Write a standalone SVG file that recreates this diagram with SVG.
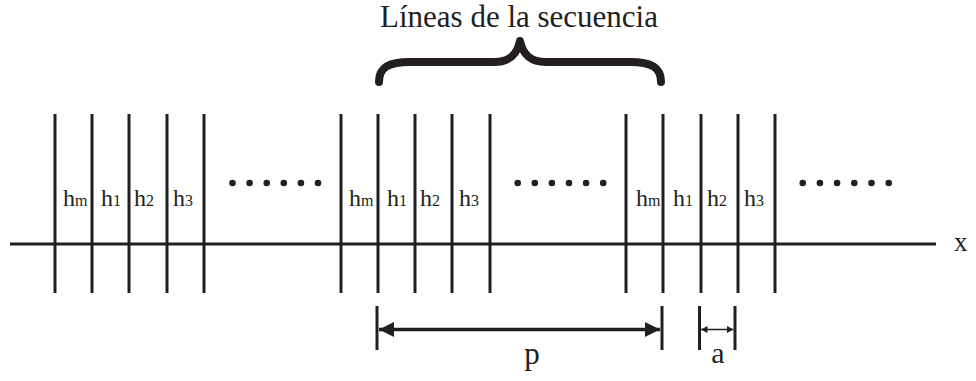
<svg xmlns="http://www.w3.org/2000/svg" width="976" height="381" viewBox="0 0 976 381">
<defs>
<style>
.ln{stroke:#231f20;stroke-width:3;fill:none}
.t{fill:#231f20;font-family:"Liberation Serif","Times New Roman",serif}
.h{font-size:24px}
.s{font-size:16px}
.d{fill:#231f20}
</style>
<marker id="big" markerUnits="userSpaceOnUse" markerWidth="16" markerHeight="16" refX="15" refY="7.5" orient="auto-start-reverse"><path d="M0,0 L15,7.5 L0,15 z" fill="#231f20"/></marker>
<marker id="small" markerUnits="userSpaceOnUse" markerWidth="8" markerHeight="8" refX="6.5" refY="3.5" orient="auto-start-reverse"><path d="M0,0 L6.5,3.5 L0,7 z" fill="#231f20"/></marker>
</defs>
<rect width="976" height="381" fill="#fff"/>
<g id="title"><text class="t" x="519" y="27" font-size="31" text-anchor="middle">Líneas de la secuencia</text></g>
<g id="brace"><path d="M379,82 C379,67 389,62 410,62 L494,62 C509,62 517,55 520,41 C523,55 531,62 546,62 L630,62 C651,62 661,67 661,82" stroke="#231f20" stroke-width="8" fill="none" stroke-linecap="round" stroke-linejoin="round"/></g>
<g id="axis"><line class="ln" x1="10" y1="244" x2="936" y2="244"/><text class="t" x="954" y="251" font-size="27">x</text></g>
<g id="group1">
<line class="ln" x1="55" y1="114" x2="55" y2="293"/><line class="ln" x1="92" y1="114" x2="92" y2="293"/><line class="ln" x1="129" y1="114" x2="129" y2="293"/><line class="ln" x1="167" y1="114" x2="167" y2="293"/><line class="ln" x1="204" y1="114" x2="204" y2="293"/>
<text class="t h" x="63" y="206">h<tspan class="s">m</tspan></text>
<text class="t h" x="101" y="206">h<tspan class="s">1</tspan></text>
<text class="t h" x="134" y="206">h<tspan class="s">2</tspan></text>
<text class="t h" x="173" y="206">h<tspan class="s">3</tspan></text>
</g>
<g id="dots1"><circle class="d" cx="232.5" cy="183" r="3.3"/><circle class="d" cx="249.6" cy="183" r="3.3"/><circle class="d" cx="266.7" cy="183" r="3.3"/><circle class="d" cx="283.8" cy="183" r="3.3"/><circle class="d" cx="300.9" cy="183" r="3.3"/><circle class="d" cx="318" cy="183" r="3.3"/></g>
<g id="group2">
<line class="ln" x1="341" y1="114" x2="341" y2="293"/><line class="ln" x1="378" y1="114" x2="378" y2="293"/><line class="ln" x1="415" y1="114" x2="415" y2="293"/><line class="ln" x1="452" y1="114" x2="452" y2="293"/><line class="ln" x1="490" y1="114" x2="490" y2="293"/>
<text class="t h" x="349" y="206">h<tspan class="s">m</tspan></text>
<text class="t h" x="387" y="206">h<tspan class="s">1</tspan></text>
<text class="t h" x="420" y="206">h<tspan class="s">2</tspan></text>
<text class="t h" x="459" y="206">h<tspan class="s">3</tspan></text>
</g>
<g id="dots2"><circle class="d" cx="517.7" cy="183" r="3.3"/><circle class="d" cx="534.8" cy="183" r="3.3"/><circle class="d" cx="551.9" cy="183" r="3.3"/><circle class="d" cx="569" cy="183" r="3.3"/><circle class="d" cx="586.1" cy="183" r="3.3"/><circle class="d" cx="603.2" cy="183" r="3.3"/></g>
<g id="group3">
<line class="ln" x1="626" y1="114" x2="626" y2="293"/><line class="ln" x1="663" y1="114" x2="663" y2="293"/><line class="ln" x1="701" y1="114" x2="701" y2="293"/><line class="ln" x1="738" y1="114" x2="738" y2="293"/><line class="ln" x1="775" y1="114" x2="775" y2="293"/>
<text class="t h" x="636" y="206">h<tspan class="s">m</tspan></text>
<text class="t h" x="673" y="206">h<tspan class="s">1</tspan></text>
<text class="t h" x="707" y="206">h<tspan class="s">2</tspan></text>
<text class="t h" x="744" y="206">h<tspan class="s">3</tspan></text>
</g>
<g id="dots3"><circle class="d" cx="802.7" cy="183" r="3.3"/><circle class="d" cx="819.9" cy="183" r="3.3"/><circle class="d" cx="837.1" cy="183" r="3.3"/><circle class="d" cx="854.3" cy="183" r="3.3"/><circle class="d" cx="871.5" cy="183" r="3.3"/><circle class="d" cx="888.7" cy="183" r="3.3"/></g>
<g id="dim-p"><line class="ln" x1="377" y1="306" x2="377" y2="350"/><line class="ln" x1="662" y1="306" x2="662" y2="350"/><text class="t" x="532" y="364" font-size="31" text-anchor="middle">p</text></g>
<g id="dim-a"><line class="ln" x1="699.5" y1="306" x2="699.5" y2="350"/><line class="ln" x1="735" y1="306" x2="735" y2="350"/><text class="t" x="718" y="363" font-size="30" text-anchor="middle">a</text></g>
<g id="connectors">
<line x1="379" y1="329.5" x2="660" y2="329.5" stroke="#231f20" stroke-width="3.5" marker-start="url(#big)" marker-end="url(#big)"/>
<line x1="701" y1="329.5" x2="733.5" y2="329.5" stroke="#231f20" stroke-width="1.5" marker-start="url(#small)" marker-end="url(#small)"/>
</g>
</svg>
